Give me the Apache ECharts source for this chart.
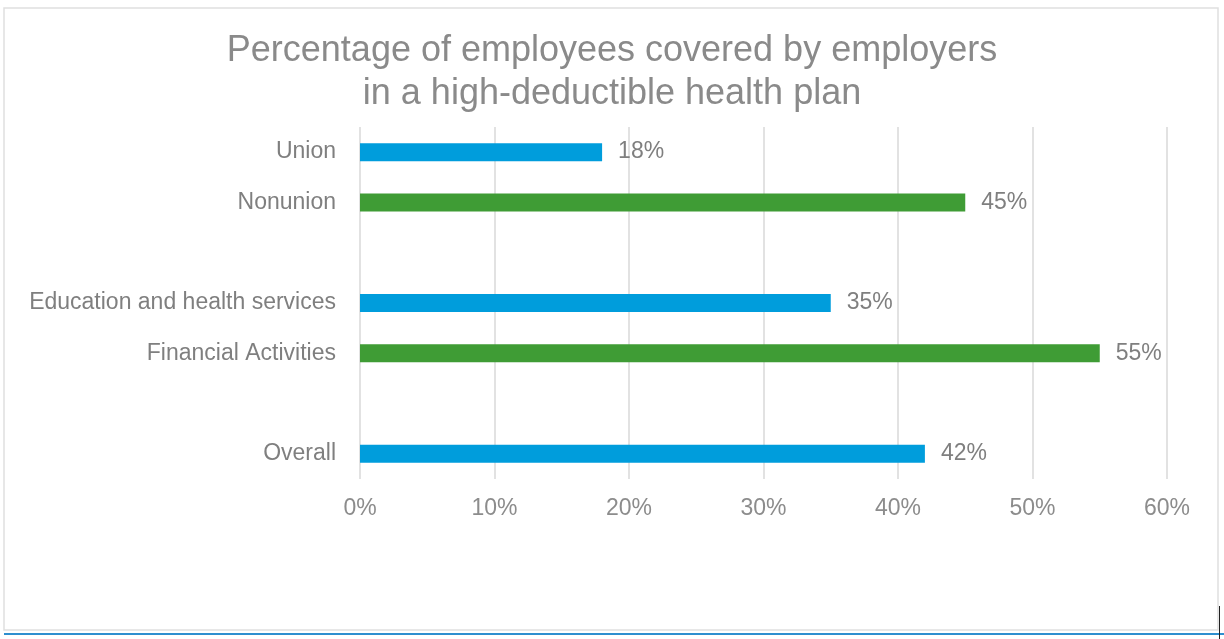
<!DOCTYPE html>
<html>
<head>
<meta charset="utf-8">
<script src="https://cdn.jsdelivr.net/npm/echarts@6/dist/echarts.min.js"></script>
<style>
  html, body { margin: 0; padding: 0; background: #fff; }
  #chart { width: 1224px; height: 639px; }
</style>
</head>
<body>
<div id="chart"></div>
<script>
// categories top to bottom, blanks are the gaps between groups
const categories = ['Union', 'Nonunion', '', 'Education and health services', 'Financial Activities', '', 'Overall'];
const blueValues = [18, null, null, 35, null, null, 42];
const greenValues = [null, 45, null, null, 55, null, null];
const xTicks = [0, 10, 20, 30, 40, 50, 60];

const myChart = echarts.init(document.getElementById('chart'));

const font = '"Liberation Sans", Arial, sans-serif';

const label = {
    show: true,
    position: 'right',
    distance: 16,
    formatter: '{c}%',
    fontFamily: font,
    fontSize: 23,
    color: '#7f7f7f',
    padding: [4, 0, 0, 0]
};

const option = {
    animation: false,
    title: {
        text: 'Percentage of employees covered by employers\nin a high-deductible health plan',
        left: 'center',
        top: 25,
        textStyle: {
            fontFamily: font,
            fontSize: 36,
            fontWeight: 'normal',
            color: '#8a8a8a',
            lineHeight: 43
        }
    },
    grid: {
        left: 360,
        right: 57,
        top: 127,
        bottom: 160
    },
    xAxis: {
        type: 'value',
        min: xTicks[0],
        max: xTicks[xTicks.length - 1],
        interval: 10,
        axisLine: { show: false },
        axisTick: { show: false },
        splitLine: { lineStyle: { color: '#d9d9d9', width: 1.5 } },
        axisLabel: {
            formatter: '{value}%',
            margin: 18,
            fontFamily: font,
            fontSize: 23,
            color: '#8c8c8c'
        }
    },
    yAxis: {
        type: 'category',
        data: categories,
        inverse: true,
        axisLine: { show: false },
        axisTick: { show: false },
        axisLabel: {
            margin: 24,
            fontFamily: font,
            fontSize: 23,
            color: '#7f7f7f',
            padding: [4, 0, 0, 0]
        }
    },
    series: [
        {
            type: 'bar',
            stack: 'all',
            data: blueValues,
            barWidth: 18,
            itemStyle: { color: '#009ddc' },
            label: label
        },
        {
            type: 'bar',
            stack: 'all',
            data: greenValues,
            barWidth: 18,
            itemStyle: { color: '#3f9c35' },
            label: label
        }
    ],
    graphic: [
        {
            type: 'rect',
            shape: { x: 4, y: 8, width: 1214, height: 622 },
            style: { fill: 'none', stroke: '#e0e0e0', lineWidth: 1.5 },
            silent: true
        },
        {
            type: 'line',
            shape: { x1: 4, y1: 634, x2: 1224, y2: 634 },
            style: { stroke: '#2e8fcf', lineWidth: 2 },
            silent: true
        },
        {
            type: 'line',
            shape: { x1: 1219.5, y1: 606, x2: 1219.5, y2: 639 },
            style: { stroke: '#222', lineWidth: 1 },
            silent: true
        }
    ]
};

myChart.setOption(option);
</script>
</body>
</html>
